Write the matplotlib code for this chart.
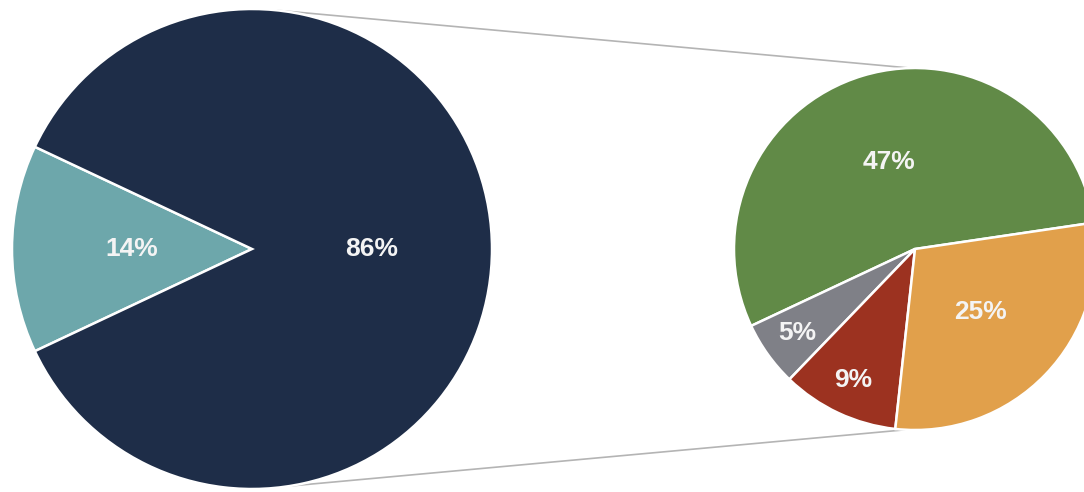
import numpy as np
import matplotlib
matplotlib.use("Agg")
import matplotlib.pyplot as plt
from matplotlib.patches import ConnectionPatch

# overall split (left pie)
main_labels = ['Other', 'Main']
main_values = [14, 86]
main_colors = ['#6da7ab', '#1e2d48']

# breakdown of the 86% (right pie), shares of the total
sub_labels = ['A', 'B', 'C', 'D']
sub_values = [47, 5, 9, 25]
sub_colors = ['#618a47', '#7f8087', '#9c3220', '#e1a04b']

W, H = 1084, 492
fig = plt.figure(figsize=(W / 100, H / 100), dpi=100)
ax = fig.add_axes([0, 0, 1, 1])
ax.set_xlim(0, W)
ax.set_ylim(0, H)
ax.set_aspect('equal')
ax.axis('off')

big_c, big_r = (252, 243), 240
small_c, small_r = (915, 243), 181

wedges1, _ = ax.pie(main_values, colors=main_colors, startangle=154.8,
                    center=big_c, radius=big_r, frame=True,
                    wedgeprops=dict(edgecolor='white', linewidth=1.8))
wedges2, _ = ax.pie(sub_values, colors=sub_colors, startangle=8.4,
                    center=small_c, radius=small_r, frame=True,
                    wedgeprops=dict(edgecolor='white', linewidth=1.8))
ax.set_xlim(0, W)
ax.set_ylim(0, H)
ax.axis('off')

def put_labels(wedges, values, c, r):
    for w, v in zip(wedges, values):
        mid = np.deg2rad((w.theta1 + w.theta2) / 2)
        d = 0.5 if v > 12 else 0.8
        ax.text(c[0] + d * r * np.cos(mid), c[1] + d * r * np.sin(mid),
                '%d%%' % v, ha='center', va='center', color='#f4f4f4',
                fontsize=19, fontweight='bold', family='Liberation Sans')

put_labels(wedges1, main_values, big_c, big_r)
put_labels(wedges2, sub_values, small_c, small_r)

# connector lines between the two pies
for a1, a2 in [(84, 91.5), (-81, -93)]:
    p1 = (big_c[0] + big_r * np.cos(np.deg2rad(a1)), big_c[1] + big_r * np.sin(np.deg2rad(a1)))
    p2 = (small_c[0] + small_r * np.cos(np.deg2rad(a2)), small_c[1] + small_r * np.sin(np.deg2rad(a2)))
    ax.add_artist(ConnectionPatch(xyA=p1, xyB=p2, coordsA='data', coordsB='data',
                                  axesA=ax, axesB=ax, color='#b4b4b4', linewidth=1.2, zorder=0))

fig.savefig('out.png', dpi=100)
